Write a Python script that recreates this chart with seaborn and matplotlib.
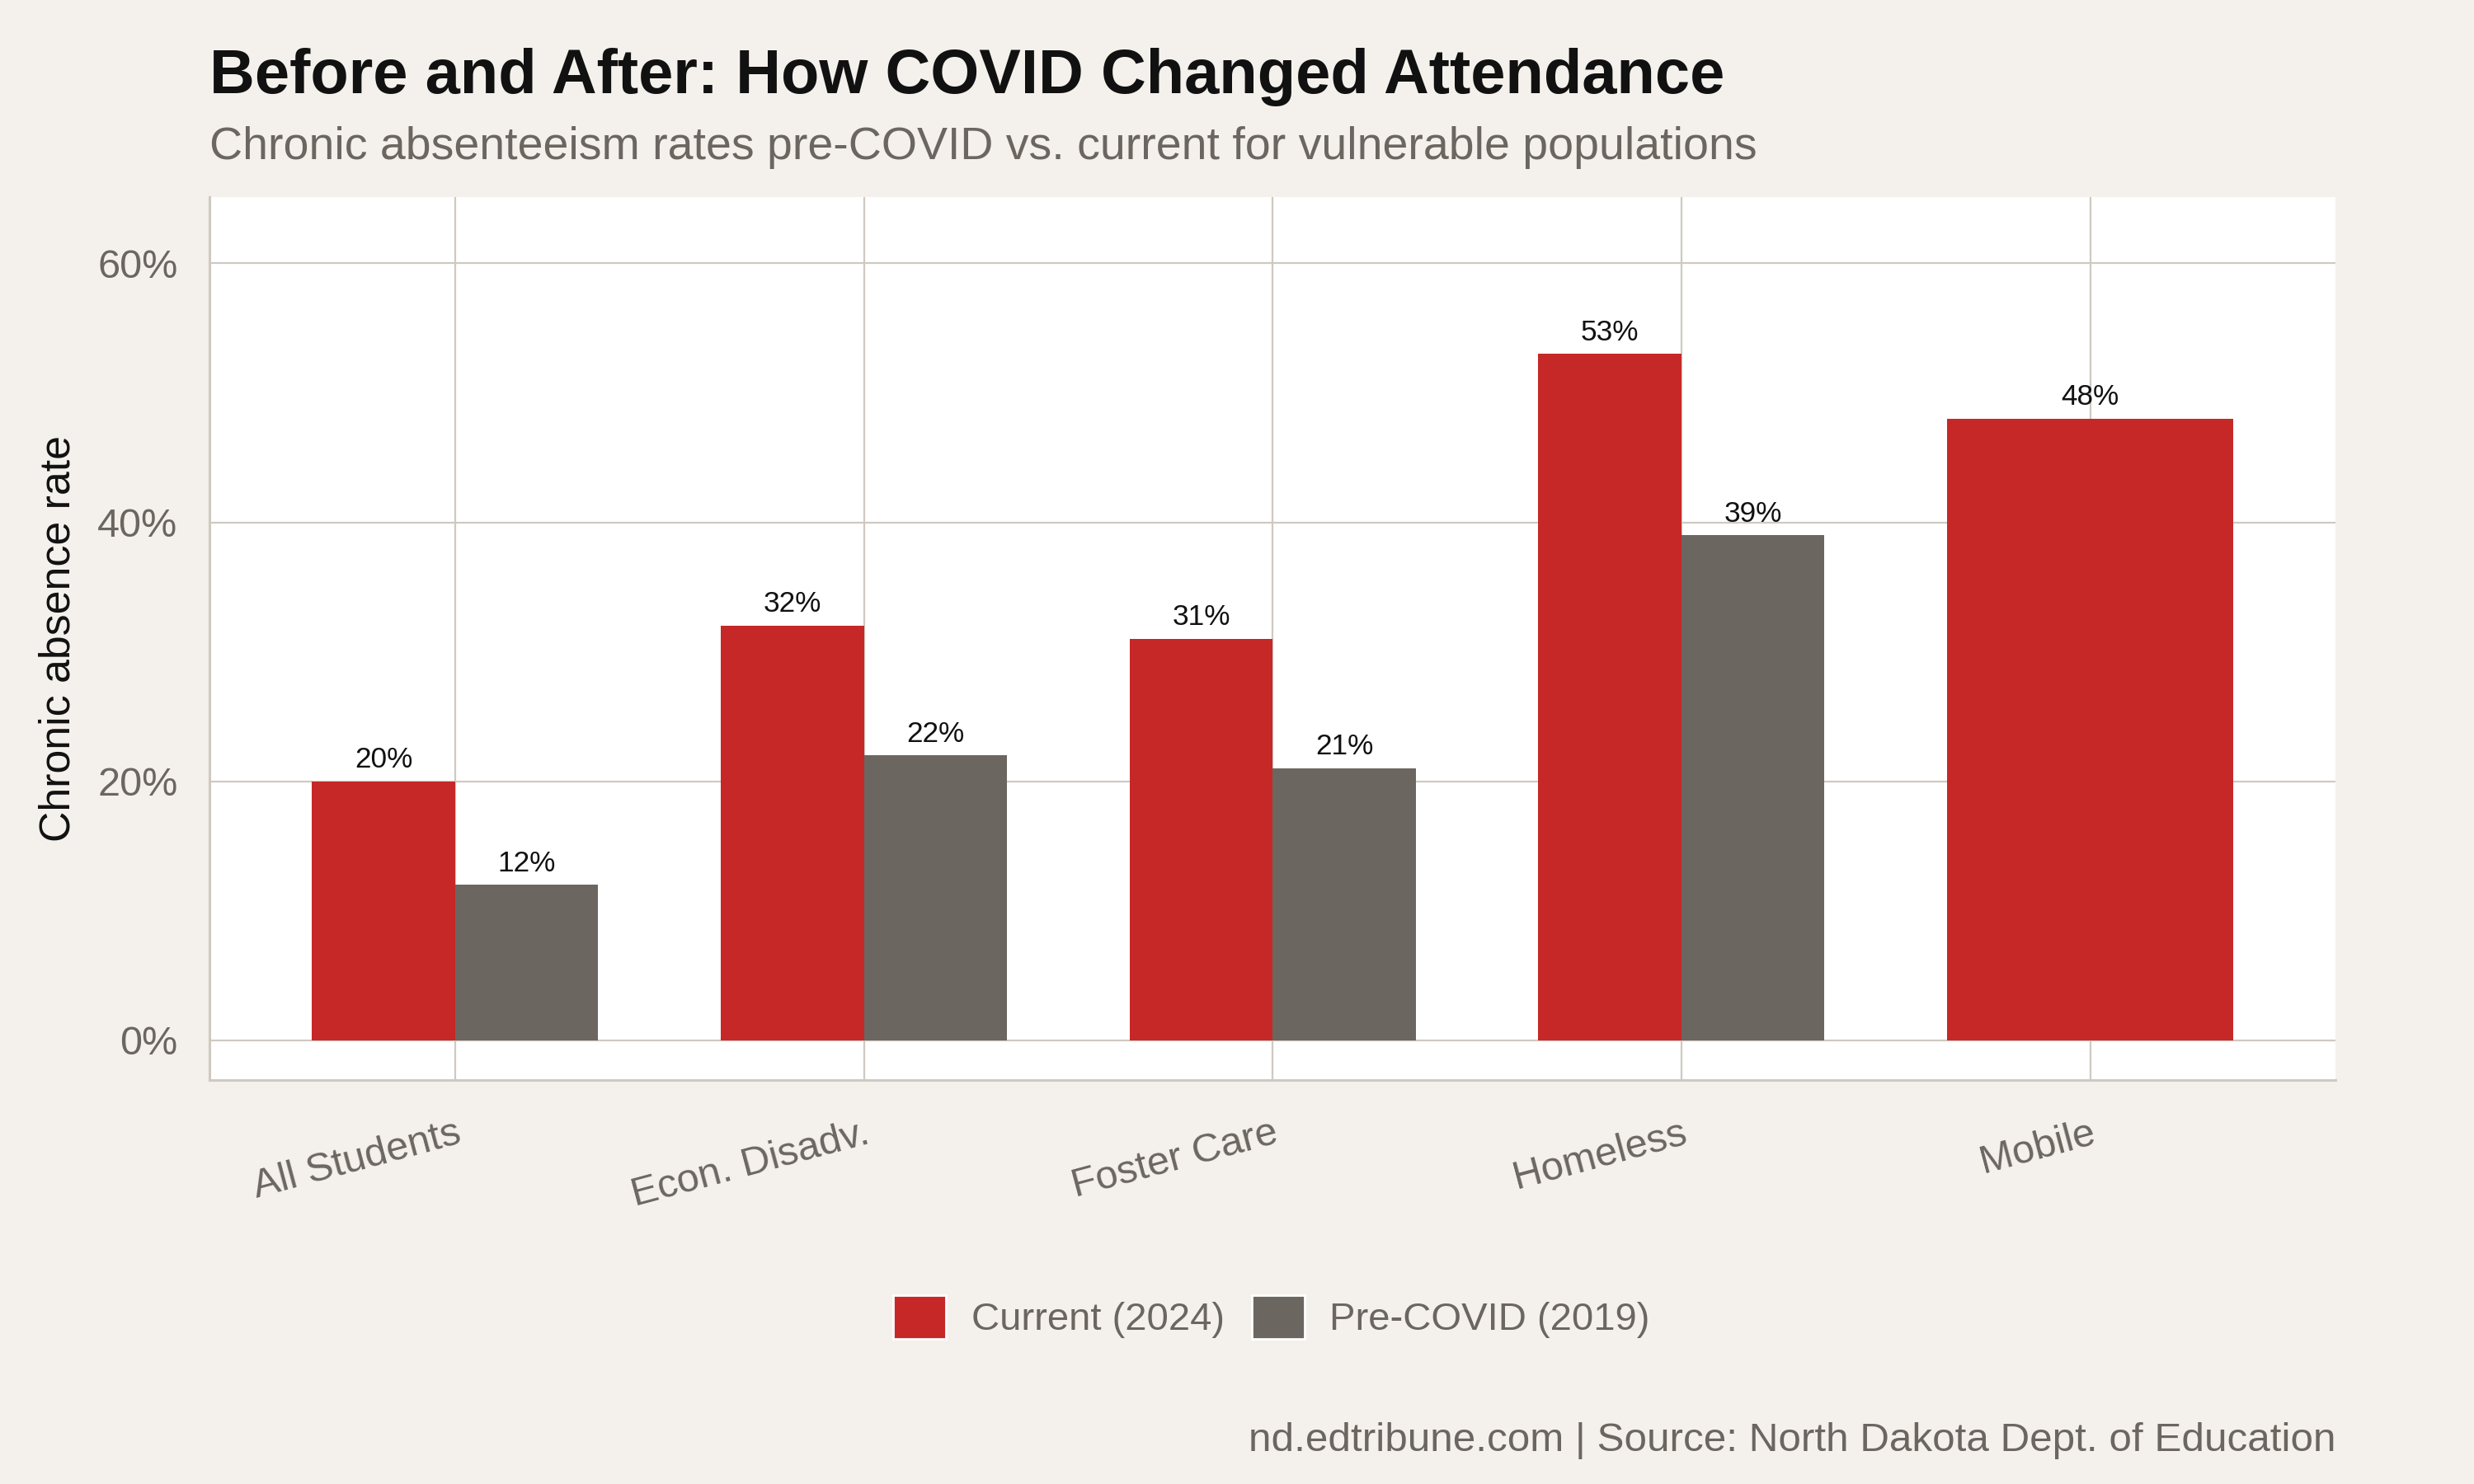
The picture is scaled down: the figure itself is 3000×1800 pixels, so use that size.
import pandas as pd
import matplotlib.pyplot as plt
import seaborn as sns
from matplotlib.patches import Patch
from matplotlib.ticker import FuncFormatter

# data (percent)
groups = ["All Students", "Econ. Disadv.", "Foster Care", "Homeless", "Mobile"]
current_2024 = [20, 32, 31, 53, 48]
pre_covid_2019 = [12, 22, 21, 39, None]  # no pre-COVID value for Mobile
periods = ["Current (2024)", "Pre-COVID (2019)"]
y_ticks = [0, 20, 40, 60]

title = "Before and After: How COVID Changed Attendance"
subtitle = "Chronic absenteeism rates pre-COVID vs. current for vulnerable populations"
caption = "nd.edtribune.com | Source: North Dakota Dept. of Education"

BG = "#F4F1EC"
RED = "#C62828"
GRAY = "#6B6660"
GRID = "#CFC9C1"
TXT = "#6B6660"

rows = []
for g, cur, pre in zip(groups, current_2024, pre_covid_2019):
    rows.append((g, periods[0], cur))
    if pre is not None:
        rows.append((g, periods[1], pre))
df = pd.DataFrame(rows, columns=["group", "period", "rate"])

counts = df.groupby("group")["period"].count()
paired = df[df.group.isin(counts[counts == 2].index)]
single = df[df.group.isin(counts[counts == 1].index)]

sns.set_theme(style="white")
plt.rcParams["font.family"] = ["Liberation Sans", "DejaVu Sans"]

fig, ax = plt.subplots(figsize=(15, 9), dpi=200)
fig.patch.set_facecolor(BG)
ax.set_facecolor("white")
fig.subplots_adjust(left=0.0848, right=0.944, top=0.867, bottom=0.272)

sns.barplot(data=paired, x="group", y="rate", hue="period", order=groups,
            hue_order=periods, palette=[RED, GRAY], width=0.7, saturation=1,
            errorbar=None, legend=False, linewidth=0, ax=ax, zorder=2)
# groups with a single series take the full dodge width
sns.barplot(data=single, x="group", y="rate", order=groups, color=RED,
            width=0.7, saturation=1, errorbar=None, linewidth=0, ax=ax,
            zorder=2)

for cont in ax.containers:
    ax.bar_label(cont, labels=[f"{v:.0f}%" for v in cont.datavalues],
                 padding=3.5, fontsize=12.7, color="#111111")

ax.set_xlim(-0.6, len(groups) - 0.4)
ax.set_ylim(-3.1, 65.1)
ax.set_yticks(y_ticks)
ax.yaxis.set_major_formatter(FuncFormatter(lambda v, p: f"{v:.0f}%"))

ax.grid(True, color=GRID, linewidth=0.8)
ax.set_axisbelow(True)
for side in ["top", "right"]:
    ax.spines[side].set_visible(False)
for side in ["left", "bottom"]:
    ax.spines[side].set_color(GRID)
    ax.spines[side].set_linewidth(1.1)

ax.tick_params(axis="both", length=5, width=0.8, color=GRID,
               labelsize=17.5, labelcolor=TXT)
ax.tick_params(axis="y", pad=9)
ax.tick_params(axis="x", pad=10)
plt.setp(ax.get_xticklabels(), rotation=15, ha="right", va="top",
         rotation_mode="anchor")

ax.set_xlabel("")
ax.set_ylabel("Chronic absence rate", fontsize=18.7, color="#111111")
ax.yaxis.set_label_coords(-0.0615, 0.5)

handles = [Patch(facecolor=RED), Patch(facecolor=GRAY)]
fig.legend(handles, periods, loc="center", bbox_to_anchor=(0.514, 0.1126),
           ncol=2, frameon=False, fontsize=17, labelcolor=TXT,
           handlelength=1.35, handleheight=1.35, handletextpad=0.65,
           columnspacing=0.7)

fig.text(0.0848, 0.937, title, fontsize=27.3, fontweight="bold",
         color="#111111", ha="left", va="baseline")
fig.text(0.0848, 0.893, subtitle, fontsize=20, color=TXT,
         ha="left", va="baseline")
fig.text(0.944, 0.022, caption, fontsize=17.8, color=TXT,
         ha="right", va="baseline")

fig.savefig("out.png", dpi=200, facecolor=BG)
